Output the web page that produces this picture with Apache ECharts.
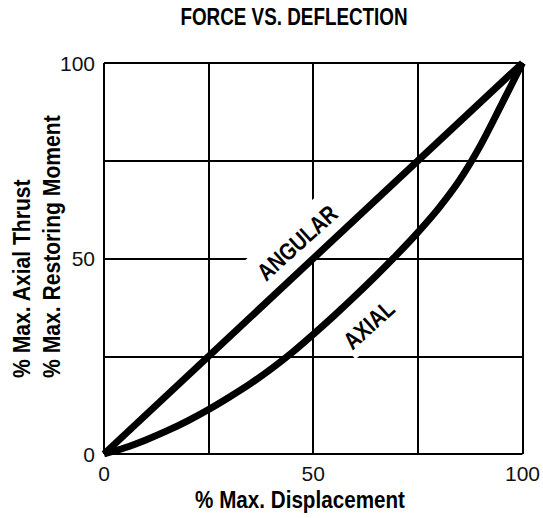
<!DOCTYPE html>
<html>
<head>
<meta charset="utf-8">
<script src="https://cdn.jsdelivr.net/npm/echarts@6/dist/echarts.min.js"></script>
<style>
  html, body { margin: 0; padding: 0; background: #fff; }
  #chart { width: 543px; height: 518px; }
</style>
</head>
<body>
<div id="chart"></div>
<script>
// Percent of maximum displacement (x) against percent of maximum force (y)
const angularX = [0, 100];
const angularY = [0, 100];
const axialX = [0, 5, 10, 15, 20, 25, 30, 35, 40, 45, 50, 55, 60, 65, 70, 75, 80, 85, 90, 95, 100];
const axialY = [0, 1.6, 3.6, 5.9, 8.5, 11.4, 14.6, 18.0, 21.8, 26.0, 30.6, 35.4, 40.4, 45.6, 51.0, 56.7, 62.9, 70.1, 79.0, 89.4, 100];

// Curve captions, placed along each curve
const captionText = ['ANGULAR', 'AXIAL'];
const captionX = [46.2, 63.3];
const captionY = [54, 33];
const captionAngle = [42, 42];

// Only these ticks carry a label; the others are grid lines only
const tickLabels = [0, 50, 100];

const titleText = 'FORCE VS. DEFLECTION';
const xName = '% Max. Displacement';
const yNameLines = ['% Max. Axial Thrust', '% Max. Restoring Moment'];

const sans = '"Liberation Sans", Arial, sans-serif';

const pairs = (xs, ys) => xs.map((x, i) => [x, ys[i]]);

const chart = echarts.init(document.getElementById('chart'), null, { renderer: 'svg' });

const valueAxis = {
  type: 'value',
  min: 0,
  max: 100,
  interval: 25,
  axisLine: { show: false },
  axisTick: { show: false },
  splitLine: { show: true, lineStyle: { color: '#000', width: 2 } },
  axisLabel: {
    color: '#111',
    fontFamily: sans,
    fontSize: 21,
    margin: 9,
    formatter: v => (tickLabels.includes(v) ? String(v) : '')
  }
};

// Bold heading, squeezed horizontally for a condensed face
const headingText = (text, x, y, size, squeeze) => ({
  type: 'text',
  x: x,
  y: y,
  scaleX: squeeze,
  style: {
    text: text,
    font: 'bold ' + size + 'px ' + sans,
    fill: '#000',
    textAlign: 'center',
    textVerticalAlign: 'middle'
  }
});

chart.setOption({
  animation: false,
  backgroundColor: '#fff',
  grid: { left: 104, top: 63, right: 19, bottom: 64, containLabel: false },
  xAxis: valueAxis,
  yAxis: valueAxis,
  series: [
    {
      name: 'ANGULAR',
      type: 'line',
      z: 5,
      showSymbol: false,
      data: pairs(angularX, angularY),
      lineStyle: { color: '#000', width: 7, cap: 'butt' }
    },
    {
      name: 'AXIAL',
      type: 'line',
      z: 5,
      showSymbol: false,
      smooth: 0.3,
      data: pairs(axialX, axialY),
      lineStyle: { color: '#000', width: 7, cap: 'butt' }
    }
  ]
});

// Captions sit at data positions converted by the grid, on a white plate
const captionPadding = [[12, 3, 8, 3], [5, 4, 4, 4]];
const captions = captionText.map((t, i) => {
  const p = chart.convertToPixel({ gridIndex: 0 }, [captionX[i], captionY[i]]);
  return {
    type: 'text',
    x: p[0],
    y: p[1],
    z: 1,
    rotation: captionAngle[i] * Math.PI / 180,
    scaleX: 0.82,
    style: {
      text: t,
      font: 'bold 24px ' + sans,
      fill: '#000',
      textAlign: 'center',
      textVerticalAlign: 'middle',
      backgroundColor: '#fff',
      padding: captionPadding[i]
    }
  };
});

chart.setOption({
  graphic: [
    headingText(titleText, 294, 17, 23, 0.82),
    headingText(xName, 300, 500, 24, 0.86),
    {
      type: 'text',
      x: 7,
      y: 378,
      rotation: Math.PI / 2,
      scaleX: 0.88,
      style: {
        text: yNameLines.join('\n'),
        font: 'bold 24px ' + sans,
        fill: '#000',
        textAlign: 'left',
        textVerticalAlign: 'top',
        lineHeight: 30
      }
    }
  ].concat(captions)
});
</script>
</body>
</html>
